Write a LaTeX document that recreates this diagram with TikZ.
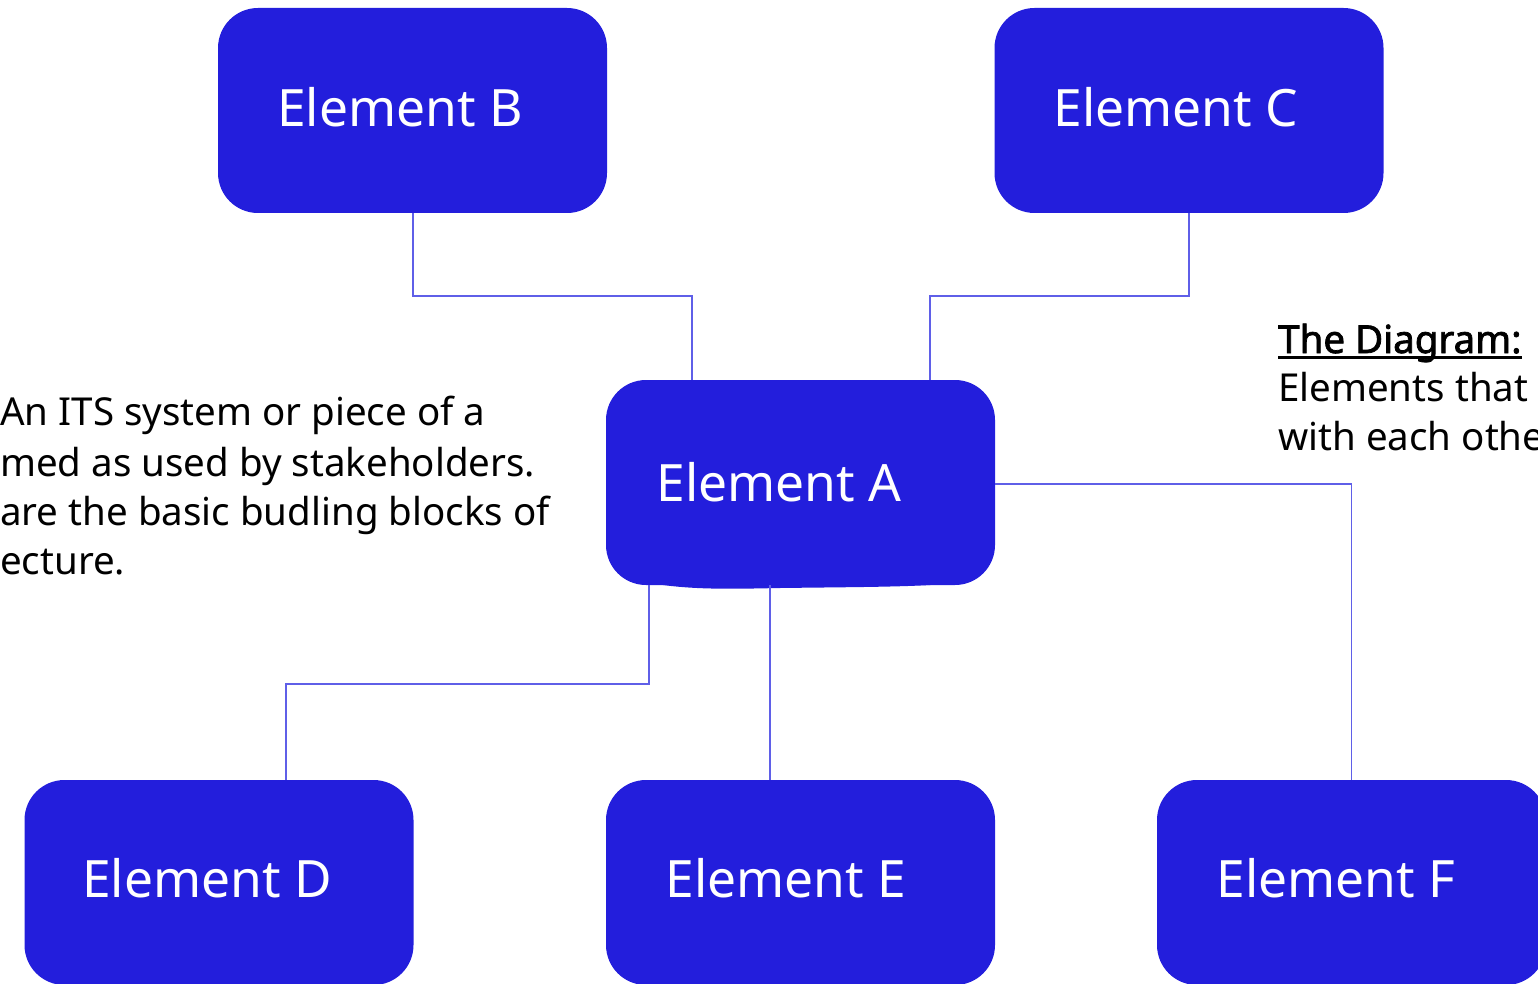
\documentclass[tikz,border=0pt]{standalone}
\usepackage{fontspec}
\setmainfont{Noto Sans}
\newfontfamily\diagbold{Noto Sans}[FakeBold=2]
\definecolor{boxblue}{RGB}{35,30,220}
\definecolor{linkblue}{RGB}{95,95,232}
\begin{document}
\begin{tikzpicture}[x=1pt,y=-1pt,
  elem/.style={draw=none,fill=boxblue,rounded corners=40pt,minimum width=389pt,minimum height=205pt,inner sep=0pt},
  elemtext/.style={text=white,font=\fontsize{51.5}{60}\selectfont,inner sep=0pt},
  link/.style={draw=linkblue,line width=1.6pt},
  body/.style={font=\fontsize{38.5}{46}\selectfont,anchor=base west,inner sep=0pt,text=black}]
\useasboundingbox (0,0) rectangle (1538,984);
% boxes
\node[elem] (B) at (412.5,110.5) {};
\node[elem] (C) at (1189,110.5) {};
\node[elem] (A) at (800.5,482.5) {};
\fill[boxblue] (650,583) .. controls (690,590) and (730,589) .. (780,588) .. controls (860,587) and (920,587) .. (955,583) -- cycle;
\node[elem] (D) at (219,882.5) {};
\node[elem] (E) at (800.5,882.5) {};
\node[elem] (F) at (1351.5,882.5) {};
% labels
\node[elemtext] (Bt) at (400,107) {Element B};
\node[elemtext] (Ct) at (1176,107) {Element C};
\node[elemtext] (At) at (779,482) {Element A};
\node[elemtext] (Dt) at (207,878) {Element D};
\node[elemtext] (Et) at (786,878) {Element E};
\node[elemtext] (Ft) at (1336,878) {Element F};
% connectors
\coordinate (b1) at (413,296);
\coordinate (c1) at (1189,296);
\coordinate (d1) at (649,684);
\draw[link] (B.south -| b1) |- (692,296) -- (A.north -| 692,0);
\draw[link] (C.south -| c1) |- (930,296) -- (A.north -| 930,0);
\draw[link] (A.east |- 0,484) -| (F.north);
\draw[link] (A.south -| d1) |- (286,684) -- (D.north -| 286,0);
\draw[link] (A.south -| 770,0) -- (E.north -| 770,0);
% texts
\node[body] (l1) at (0,425) {An ITS system or piece of a};
\node[body] (l2) at (0,476) {med as used by stakeholders.};
\node[body] (l3) at (0,525) {are the basic budling blocks of};
\node[body] (l4) at (0,574) {ecture.};
\node[body,font=\fontsize{38.5}{46}\diagbold] (r1) at (1278,353) {The Diagram:};
\draw[line width=3pt] ([yshift=-4.5pt]r1.base west) -- ([yshift=-4.5pt]r1.base east);
\node[body] (r2) at (1278,401) {Elements that};
\node[body] (r3) at (1278,450) {with each othe};
\end{tikzpicture}
\end{document}
